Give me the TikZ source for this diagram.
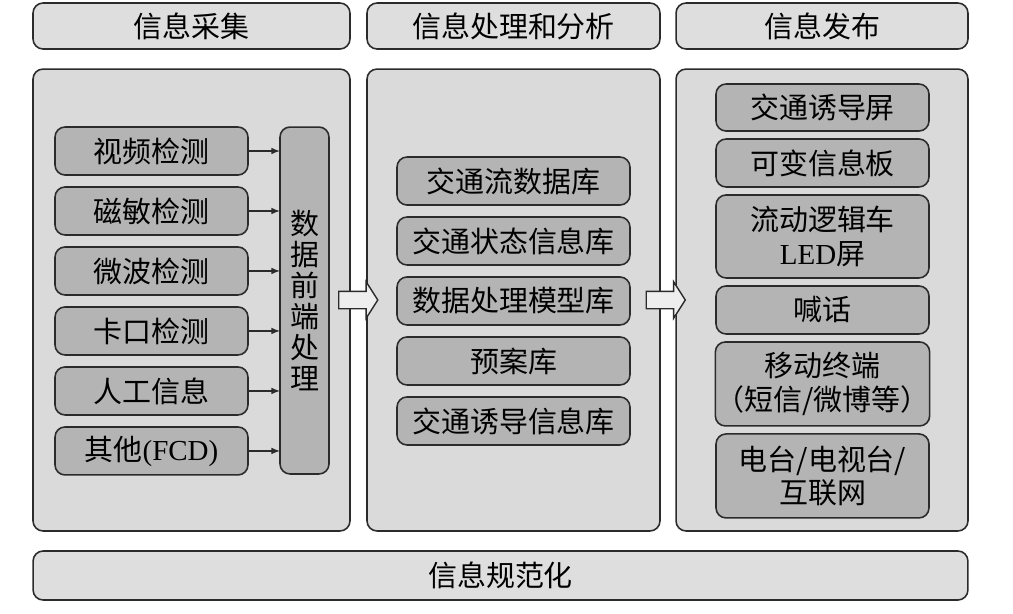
\documentclass[tikz,border=0pt]{standalone}
\usepackage{fontspec}
\setmainfont{Noto Sans CJK SC}
\newfontfamily\latin{Liberation Serif}
\usepackage{tikz}
\usetikzlibrary{arrows}
\usetikzlibrary{positioning}
\usetikzlibrary{shapes.arrows}

\definecolor{panelgray}{HTML}{DADADA}
\definecolor{boxgray}{HTML}{B4B4B4}
\definecolor{headgray}{HTML}{DEDEDE}
\definecolor{arrowgray}{HTML}{EEEEEE}
\definecolor{edgegray}{HTML}{2B2B2B}

\begin{document}
\begin{tikzpicture}[x=0.02cm,y=-0.02cm,
    every node/.style={font=\fontsize{16.5}{19}\selectfont,outer sep=0pt},
    head/.style={draw=edgegray,fill=headgray,rounded corners=0.2cm,line width=0.9pt,minimum height=0.92cm,inner sep=0pt},
    panel/.style={draw=edgegray,fill=panelgray,rounded corners=0.2cm,line width=0.9pt,minimum height=9.24cm,inner sep=0pt},
    item/.style={draw=edgegray,fill=boxgray,rounded corners=0.2cm,line width=0.9pt,minimum height=0.96cm,align=center,inner sep=0pt},
    fat/.style={single arrow,draw=edgegray,fill=arrowgray,line width=0.8pt,inner xsep=0pt,inner ysep=0.16cm,minimum height=0.78cm,single arrow head extend=0.19cm,single arrow tip angle=115}]
          \useasboundingbox (0,0) rectangle (1013,613);
          % headers
          \node[head,minimum width=6.34cm] (hcollect) at (191.5,26) {信息采集};
          \node[head,minimum width=5.86cm] (hprocess) at (513.5,26) {信息处理和分析};
          \node[head,minimum width=5.84cm] (hpublish) at (822,26) {信息发布};
          % panels
          \node[panel,minimum width=6.34cm] (collect) at (191.5,300) {};
          \node[panel,minimum width=5.86cm] (process) at (513.5,300) {};
          \node[panel,minimum width=5.84cm] (publish) at (822,300) {};
          % collection
          \node[item,minimum width=3.86cm] (video) at (151.5,151) {视频检测};
          \node[item,minimum width=3.86cm,below=0.24cm of video] (magnet) {磁敏检测};
          \node[item,minimum width=3.86cm,below=0.24cm of magnet] (micro) {微波检测};
          \node[item,minimum width=3.86cm,below=0.24cm of micro] (gate) {卡口检测};
          \node[item,minimum width=3.86cm,below=0.24cm of gate] (manual) {人工信息};
          \node[item,minimum width=3.86cm,below=0.24cm of manual] (other) {其他{\latin (FCD)}};
          \node[item,minimum width=0.98cm,minimum height=6.94cm,font=\fontsize{16.5}{17.6}\selectfont] (pre) at (304.5,300.5) {数\\据\\前\\端\\处\\理};
          \foreach \n in {video,magnet,micro,gate,manual,other}
            \draw[-latex,line width=0.7pt,edgegray] (\n.east) -- (\n.east -| pre.west);
          % processing
          \node[item,minimum width=4.66cm] (flow) at (513.5,181) {交通流数据库};
          \node[item,minimum width=4.66cm,below=0.24cm of flow] (state) {交通状态信息库};
          \node[item,minimum width=4.66cm,below=0.24cm of state] (model) {数据处理模型库};
          \node[item,minimum width=4.66cm,below=0.24cm of model] (plan) {预案库};
          \node[item,minimum width=4.66cm,below=0.24cm of plan] (guide) {交通诱导信息库};
          % publishing
          \node[item,minimum width=4.26cm,minimum height=0.94cm] (screen) at (822.5,107.5) {交通诱导屏};
          \node[item,minimum width=4.26cm,below=0.16cm of screen] (vms) {可变信息板};
          \node[item,minimum width=4.26cm,minimum height=1.66cm,below=0.16cm of vms] (car) {流动逻辑车\\{\latin LED}屏};
          \node[item,minimum width=4.26cm,below=0.16cm of car] (shout) {喊话};
          \node[item,minimum width=4.26cm,minimum height=1.68cm,below=0.16cm of shout] (mobile) {移动终端\\（短信/微博等）};
          \node[item,minimum width=4.26cm,minimum height=1.68cm,below=0.16cm of mobile] (radio) {电台/电视台/\\互联网};
          % big arrows between panels
          \node[fat] (arrA) at (355.5,300) {};
          \node[fat] (arrB) at (663,300) {};
          % bottom bar
          \node[head,minimum width=18.70cm,minimum height=0.98cm] (norm) at (500.5,575.5) {信息规范化};
        \end{tikzpicture}
\end{document}
